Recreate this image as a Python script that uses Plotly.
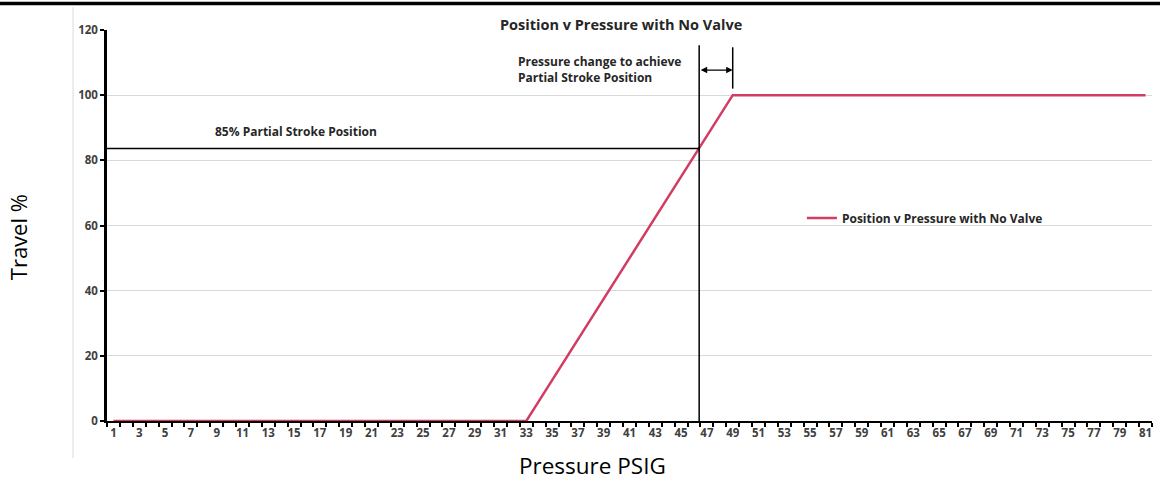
import plotly.graph_objects as go

# ---- data ----
pressure = list(range(1, 82))
travel = ([0] * 33 +
          [6.25, 12.5, 18.75, 25, 31.25, 37.5, 43.75, 50, 56.25, 62.5, 68.75, 75, 81.25, 87.5, 93.75, 100] +
          [100] * 32)
x_labels = list(range(1, 82, 2))
y_ticks = [0, 20, 40, 60, 80, 100, 120]

series_name = "Position v Pressure with No Valve"
partial_stroke_travel = 83.6
partial_stroke_pressure = 46.4
full_stroke_pressure = 49
marker_top = 115.3
marker2_bottom = 102
marker2_top = 114.7
arrow_level = 107.7

RED = "#D33C62"
TICKFONT = dict(family="Open Sans", size=11.5, color="#404040", weight="bold")
ANNFONT = dict(family="Open Sans", size=12, color="#262626", weight="bold")

fig = go.Figure()
fig.add_trace(go.Scatter(
    x=pressure, y=travel, mode="lines", name=series_name,
    line=dict(color=RED, width=2.5), showlegend=True,
))

# reference lines
fig.add_shape(type="line", xref="x", yref="y", x0=0.5, x1=partial_stroke_pressure,
              y0=partial_stroke_travel, y1=partial_stroke_travel, line=dict(color="black", width=1.5))
fig.add_shape(type="line", xref="x", yref="y", x0=partial_stroke_pressure, x1=partial_stroke_pressure,
              y0=0, y1=marker_top, line=dict(color="black", width=1.5))
fig.add_shape(type="line", xref="x", yref="y", x0=full_stroke_pressure, x1=full_stroke_pressure,
              y0=marker2_bottom, y1=marker2_top, line=dict(color="black", width=1.5))
# double-headed arrow
fig.add_annotation(x=full_stroke_pressure, y=arrow_level, ax=partial_stroke_pressure, ay=arrow_level,
                   xref="x", yref="y", axref="x", ayref="y", text="", showarrow=True,
                   arrowhead=2, startarrowhead=2, arrowside="end+start", arrowsize=1,
                   arrowwidth=1.3, arrowcolor="black", standoff=0, startstandoff=0)

# texts
fig.add_annotation(x=0.492, y=1.0, xref="paper", yref="paper", yshift=6, yanchor="middle",
                   text="Position v Pressure with No Valve", showarrow=False,
                   font=dict(family="Open Sans", size=14.5, color="#262626", weight="bold"))
fig.add_annotation(x=8.7, y=89, xref="x", yref="y", xanchor="left", yanchor="middle",
                   text="85% Partial Stroke Position", showarrow=False, font=ANNFONT)
fig.add_annotation(x=32.2, y=108, xref="x", yref="y", xanchor="left", yanchor="middle",
                   text="Pressure change to achieve<br>Partial Stroke Position", align="left",
                   showarrow=False, font=ANNFONT)

# axis titles (placed as text outside the plot)
fig.add_annotation(x=0.465, y=0, xref="paper", yref="paper", yshift=-44, yanchor="middle",
                   text="Pressure PSIG", showarrow=False,
                   font=dict(family="Open Sans", size=22.5, color="black"))
fig.add_annotation(x=0, y=0.47, xref="paper", yref="paper", xshift=-89, xanchor="center",
                   text="Travel %", textangle=-90, showarrow=False,
                   font=dict(family="Open Sans", size=22, color="black"))

# decorative chart frame
fig.add_shape(type="line", xref="paper", yref="paper", x0=-0.103, x1=1.01, y0=1.068, y1=1.068,
              line=dict(color="black", width=3.5))
fig.add_shape(type="line", xref="paper", yref="paper", x0=-0.0325, x1=-0.0325, y0=1.058, y1=-0.095,
              line=dict(color="#DADADA", width=1))

fig.update_layout(
    width=1160, height=481,
    margin=dict(l=107, r=8, t=30, b=60, autoexpand=False),
    paper_bgcolor="white", plot_bgcolor="white",
    legend=dict(x=0.665, y=0.519, xanchor="left", yanchor="middle", bgcolor="rgba(0,0,0,0)",
                font=ANNFONT, itemwidth=30),
    xaxis=dict(
        range=[0.5, 81.5], tickmode="array", tickvals=x_labels, ticktext=[str(v) for v in x_labels],
        ticks="", tickfont=TICKFONT, showgrid=False, zeroline=False, automargin=False,
        showline=True, linecolor="black", linewidth=2,
        minor=dict(tickmode="array", tickvals=[p - 0.5 for p in pressure] + [pressure[-1] + 0.5],
                   ticks="outside", ticklen=4, tickwidth=1.5, tickcolor="black", showgrid=False),
    ),
    yaxis=dict(
        range=[0, 120], tickmode="array", tickvals=y_ticks, ticks="outside", ticklen=4,
        tickwidth=1.5, tickcolor="black", tickfont=TICKFONT, automargin=False,
        showgrid=True, gridcolor="#D9D9D9", gridwidth=1, zeroline=False,
        showline=True, linecolor="black", linewidth=2.5,
    ),
)

fig.write_html("out.html", config={"displayModeBar": False},
               post_script="document.body.style.margin='0';")
